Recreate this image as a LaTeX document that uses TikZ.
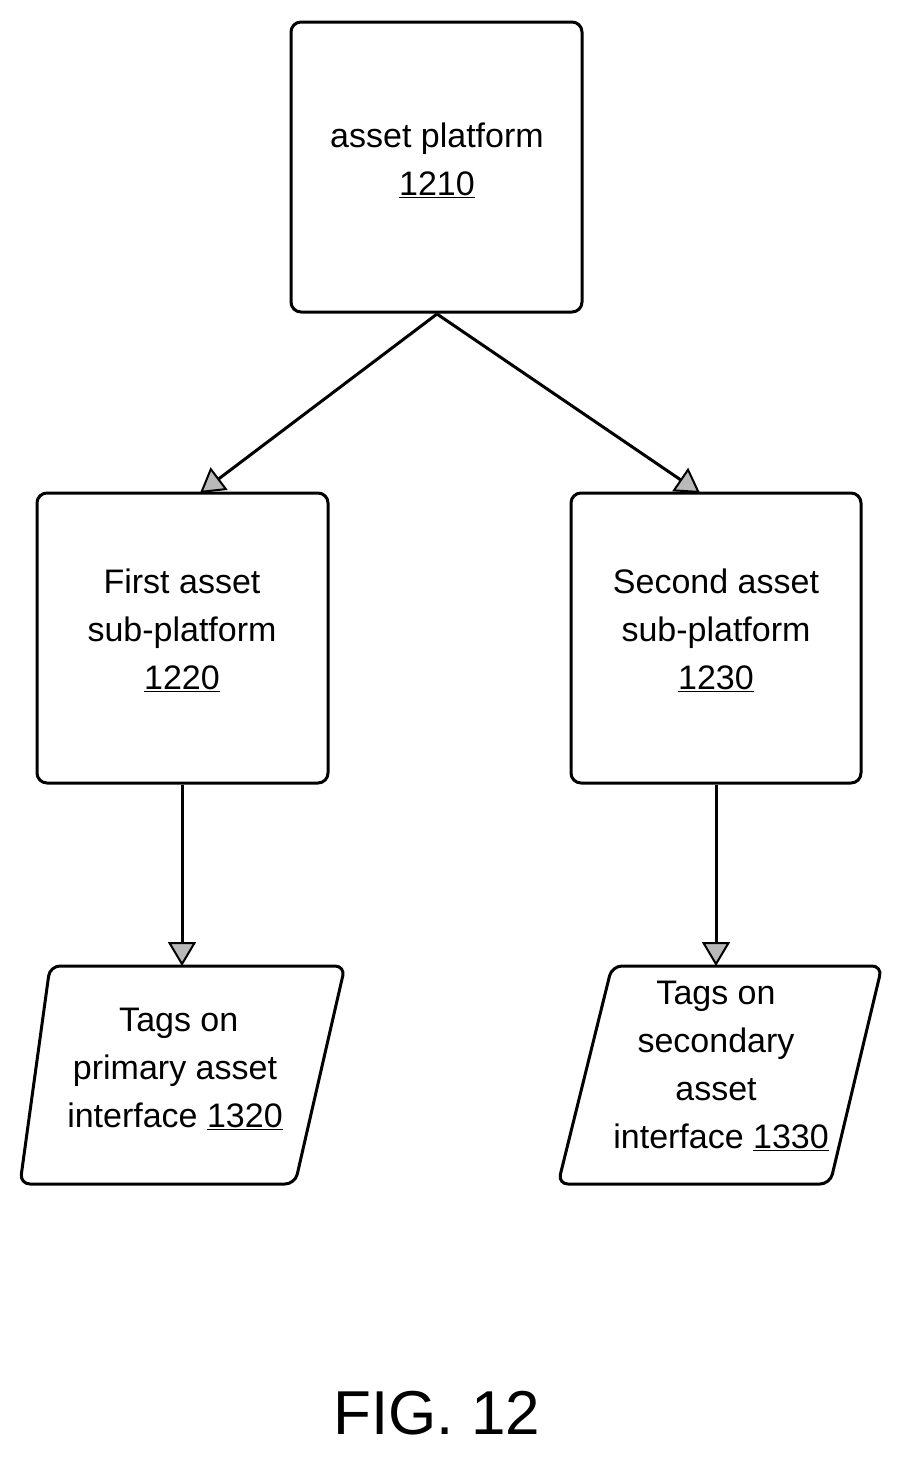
\documentclass[tikz,border=0pt]{standalone}
\usepackage{fontspec}
\setmainfont{Liberation Sans}
\usetikzlibrary{arrows.meta}
\begin{document}
\begin{tikzpicture}[x=1pt,y=-1pt,
 box/.style={draw,line width=3pt,rounded corners=10pt},
 txt/.style={align=center,font=\fontsize{34}{48}\selectfont,inner sep=0},
 arr/.style={line width=3pt,-{Triangle[length=24pt,width=28pt,line width=2pt,fill=gray!55]}}]
\useasboundingbox (0,0) rectangle (904,1459);
\draw[box] (291,22) rectangle (582,312);
\draw[box] (37,493) rectangle (328,783);
\draw[box] (571,493) rectangle (861,783);
\draw[box] (50,966) -- (345,966) -- (295,1184) -- (20,1184) -- cycle;
\draw[box] (612,966) -- (882,966) -- (830,1184) -- (558,1184) -- cycle;
\node[txt] (a) at (437,160) {asset platform\\\underline{1210}};
\node[txt] (b) at (182,630) {First asset\\sub-platform\\\underline{1220}};
\node[txt] (c) at (716,630) {Second asset\\sub-platform\\\underline{1230}};
\node[txt] (d) at (175,1068) {\phantom{i}Tags on\\primary asset\\interface \underline{1320}};
\node[txt] (e) at (716,1066) {Tags on\\secondary\\asset\\\hspace{0.3em}interface \underline{1330}};
\coordinate (at) at (437,314);
\coordinate (bt) at (200,493);
\coordinate (ct) at (700,493);
\coordinate (bb) at (182,785);
\coordinate (cb) at (716,785);
\coordinate (dt) at (182,966);
\coordinate (et) at (716,966);
\draw[arr] (at) -- (bt);
\draw[arr] (at) -- (ct);
\draw[arr] (bb) -- (dt);
\draw[arr] (cb) -- (et);
\node[font=\fontsize{62}{70}\selectfont] (f) at (437,1413) {FIG. 12};
\end{tikzpicture}
\end{document}
